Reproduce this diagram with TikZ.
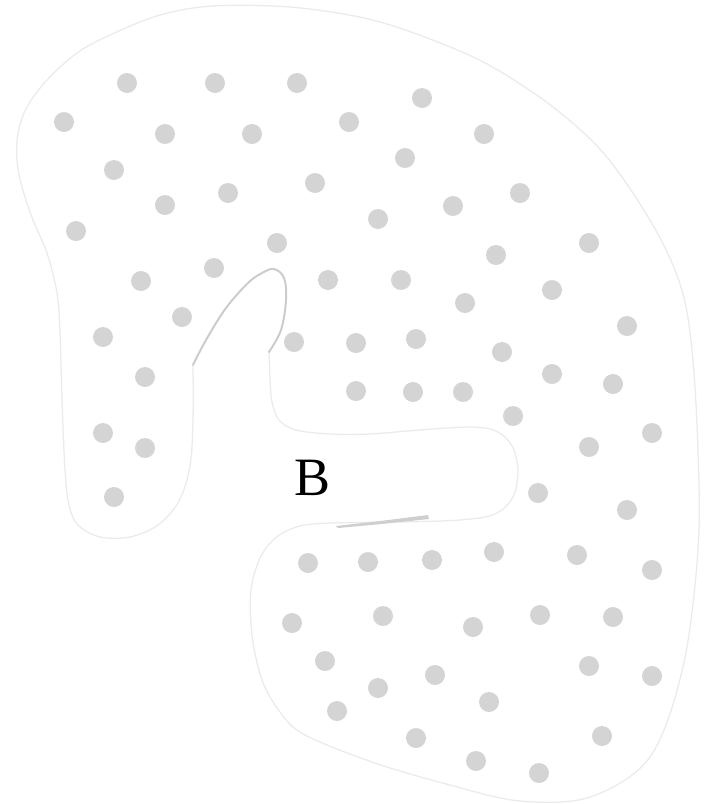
\documentclass[tikz,border=0pt]{standalone}
\usepackage{fontspec}
\setmainfont{Liberation Serif}
\begin{document}
\begin{tikzpicture}[x=1pt,y=-1pt,
  rim/.style={draw=black!8,line width=1.3pt,line join=round},
  fold/.style={draw=black!20,line width=2pt,line cap=round},
  spot/.style={fill=black!17},
  tag/.style={font=\fontsize{54}{60}\selectfont,text=black,inner sep=0pt}]
\useasboundingbox (0,0) rectangle (709,804);

% outer contour of the body
\draw[rim] plot[smooth,tension=0.55] coordinates {
  (269,352) (270,378) (272,402) (279,420) (296,430) (330,434) (370,434)
  (420,430) (470,427) (496,431) (512,446) (518,470) (513,497) (495,514)
  (460,520) (400,522) (330,523) (300,526) (278,536) (261,556) (251,590)
  (252,635) (262,680) (280,712) (305,735) (375,763) (450,785) (520,801)
  (590,797) (650,757) (683,667) (698,550) (698,450) (692,350) (681,287)
  (654,227) (606,156) (553,107) (487,64) (422,36) (364,18) (290,7) (213,6)
  (160,15) (110,35) (77,53) (47,80) (27,107) (18,133) (17,160) (22,187)
  (33,220) (47,253) (57,293) (60,333) (62,400)
  (65,470) (69,505) (78,525) (100,537) (130,537) (158,525) (179,501)
  (190,466) (193,420) (193,365)};

% inner fold of the slit
\draw[fold] plot[smooth,tension=0.6] coordinates {
  (193,365) (206,340) (226,308) (248,283) (262,273) (274,269) (284,278)
  (286,300) (281,330) (269,352)};

% thin crease along the lower lip of the channel
\fill[black!19] (336,526) -- (380,521) -- (428,515) -- (429,519)
  -- (382,524) -- (338,528) -- cycle;

% scattered spots
\foreach \p in {
  (127,83),(215,83),(297,83),(422,98),
  (64,122),(165,134),(252,134),(349,122),(484,134),
  (114,170),(405,158),
  (165,205),(228,193),(315,183),(378,219),(453,206),(520,193),
  (76,231),(277,243),(496,255),(589,243),
  (141,281),(214,268),(328,280),(401,280),(552,290),
  (465,303),(182,317),(627,326),
  (103,337),(294,342),(356,343),(416,339),(502,352),
  (145,377),(552,374),(613,384),
  (356,391),(413,392),(463,392),(513,416),
  (103,433),(145,448),(589,447),(652,433),
  (114,497),(538,493),(627,510),
  (308,563),(368,562),(432,560),(494,552),(577,555),(652,570),
  (292,623),(383,616),(473,627),(540,615),(613,617),
  (325,661),(378,688),(435,675),(589,666),(652,676),
  (337,711),(489,702),
  (416,738),(602,736),
  (476,761),(539,773)}
  \fill[spot] \p circle (10);

\node[tag] (lbl) at (313,478) {B};
\end{tikzpicture}
\end{document}
